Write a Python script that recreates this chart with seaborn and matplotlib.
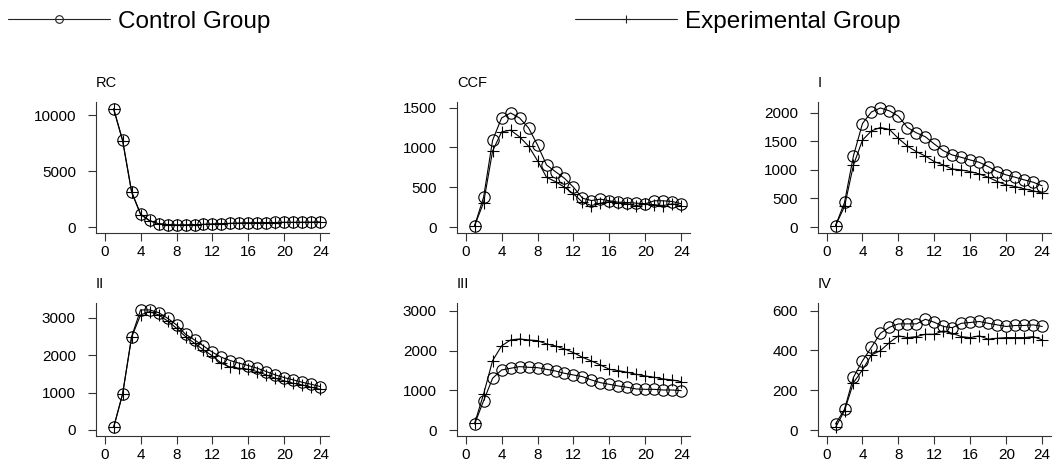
import numpy as np
import pandas as pd
import matplotlib
matplotlib.use("Agg")
import matplotlib.pyplot as plt
from matplotlib.lines import Line2D
import seaborn as sns

# ─── Data ────────────────────────────────────────────────
hours = list(range(1, 25))

rc_ctrl = [10600, 7770, 3180, 1160, 590, 300, 230, 180, 190, 210, 240, 270,
           300, 330, 350, 370, 380, 390, 410, 420, 420, 425, 430, 445]
rc_exp = [10550, 7700, 3120, 1120, 560, 290, 220, 175, 185, 205, 235, 265,
          295, 325, 345, 365, 375, 385, 405, 415, 415, 420, 425, 440]

ccf_ctrl = [17, 375, 1090, 1370, 1433, 1370, 1245, 1030, 780, 695, 612, 500,
            362, 333, 350, 330, 312, 308, 300, 292, 330, 330, 320, 292]
ccf_exp = [17, 308, 955, 1195, 1217, 1133, 1017, 833, 625, 570, 500, 417,
           312, 270, 300, 320, 300, 292, 270, 292, 280, 270, 292, 267]

i_ctrl = [23, 430, 1250, 1814, 2017, 2087, 2035, 1942, 1744, 1651, 1581, 1453,
          1337, 1262, 1221, 1174, 1134, 1058, 971, 913, 872, 826, 785, 721]
i_exp = [23, 360, 1087, 1523, 1686, 1744, 1709, 1552, 1419, 1320, 1244, 1145,
         1087, 1017, 1000, 971, 930, 872, 797, 738, 709, 669, 634, 593]

ii_ctrl = [71, 962, 2493, 3205, 3205, 3134, 2983, 2805, 2555, 2404, 2244, 2075,
           1941, 1852, 1781, 1719, 1647, 1558, 1469, 1398, 1336, 1273, 1220, 1158]
ii_exp = [71, 962, 2475, 3072, 3161, 3072, 2912, 2716, 2493, 2315, 2137, 1977,
          1781, 1674, 1647, 1621, 1558, 1469, 1380, 1309, 1247, 1202, 1140, 1086]

iii_ctrl = [151, 739, 1303, 1513, 1555, 1597, 1580, 1571, 1529, 1487, 1429, 1387,
            1345, 1261, 1193, 1151, 1109, 1076, 1034, 1025, 1025, 1008, 1008, 992]
iii_exp = [168, 908, 1748, 2118, 2269, 2294, 2269, 2252, 2168, 2118, 2042, 1950,
           1832, 1739, 1639, 1529, 1496, 1454, 1403, 1361, 1328, 1286, 1261, 1218]

iv_ctrl = [30, 104, 265, 347, 416, 486, 516, 533, 533, 533, 556, 541,
           520, 514, 536, 540, 545, 536, 528, 520, 525, 525, 528, 520]
iv_exp = [13, 97, 238, 302, 377, 399, 439, 473, 464, 469, 481, 481,
          498, 486, 469, 464, 473, 456, 461, 464, 464, 464, 469, 453]

panels = ["RC", "CCF", "I", "II", "III", "IV"]
groups = ["Control Group", "Experimental Group"]
x_ticks = [0, 4, 8, 12, 16, 20, 24]
y_ticks = {
    "RC": [0, 5000, 10000],
    "CCF": [0, 500, 1000, 1500],
    "I": [0, 500, 1000, 1500, 2000],
    "II": [0, 1000, 2000, 3000],
    "III": [0, 1000, 2000, 3000],
    "IV": [0, 200, 400, 600],
}
y_limits = {
    "RC": (-530, 11180),
    "CCF": (-75, 1570),
    "I": (-105, 2190),
    "II": (-160, 3385),
    "III": (-150, 3195),
    "IV": (-30, 637),
}

series = {
    "RC": (rc_ctrl, rc_exp),
    "CCF": (ccf_ctrl, ccf_exp),
    "I": (i_ctrl, i_exp),
    "II": (ii_ctrl, ii_exp),
    "III": (iii_ctrl, iii_exp),
    "IV": (iv_ctrl, iv_exp),
}

rows = []
for name, (ctrl, exp) in series.items():
    for h, c, e in zip(hours, ctrl, exp):
        rows.append({"panel": name, "hour": h, "group": groups[0], "value": c})
        rows.append({"panel": name, "hour": h, "group": groups[1], "value": e})
df = pd.DataFrame(rows)

# ─── Style ───────────────────────────────────────────────
sns.set_style("ticks")
plt.rcParams["font.family"] = ["Liberation Sans", "DejaVu Sans"]
plt.rcParams["text.color"] = "black"

fig = plt.figure(figsize=(10.54, 4.66), dpi=100)

lefts = [0.0911, 0.4336, 0.776]
bottoms = [0.500, 0.0644]
heights = [0.281, 0.285]
width = 0.221

markers = {groups[0]: "o", groups[1]: "+"}
msizes = {groups[0]: 8.2, groups[1]: 8.8}

for k, name in enumerate(panels):
    r, c = divmod(k, 3)
    ax = fig.add_axes([lefts[c], bottoms[r], width, heights[r]])
    for g in groups:
        sub = df[(df["panel"] == name) & (df["group"] == g)]
        sns.lineplot(
            data=sub, x="hour", y="value", color="black", linewidth=0.8,
            marker=markers[g], markersize=msizes[g], markeredgewidth=0.8,
            markerfacecolor="none", markeredgecolor="black", ax=ax,
        )
    ax.set_xlim(-0.96, 24.96)
    ax.set_ylim(*y_limits[name])
    ax.set_xticks(x_ticks)
    ax.set_yticks(y_ticks[name])
    ax.set_xlabel("")
    ax.set_ylabel("")
    ax.set_title(name, loc="left", fontsize=10.5, pad=11, color="black")
    for side in ["top", "right"]:
        ax.spines[side].set_visible(False)
    for side in ["left", "bottom"]:
        ax.spines[side].set_linewidth(0.8)
        ax.spines[side].set_color("#333333")
    ax.tick_params(axis="both", direction="out", length=6, width=0.8,
                   color="#333333", labelsize=11, labelcolor="black")
    ax.tick_params(axis="x", pad=2.5)
    ax.tick_params(axis="y", pad=8.5)

# ─── Legend across the top ───────────────────────────────
legend_font = {"family": ["Liberation Sans", "DejaVu Sans"], "size": 17.5}
anchors = [0.0076, 0.5455]
for g, xa in zip(groups, anchors):
    handle = Line2D([], [], color="#222222", linewidth=0.8, marker=markers[g],
                    markersize=5.5, markerfacecolor="none", markeredgecolor="#222222",
                    markeredgewidth=0.8)
    fig.legend([handle], [g], loc="center left", bbox_to_anchor=(xa, 0.953),
               frameon=False, prop=legend_font, handlelength=4.2,
               handletextpad=0.33, borderpad=0, borderaxespad=0,
               labelcolor="black")

plt.savefig("out.png", dpi=100)
plt.close()
